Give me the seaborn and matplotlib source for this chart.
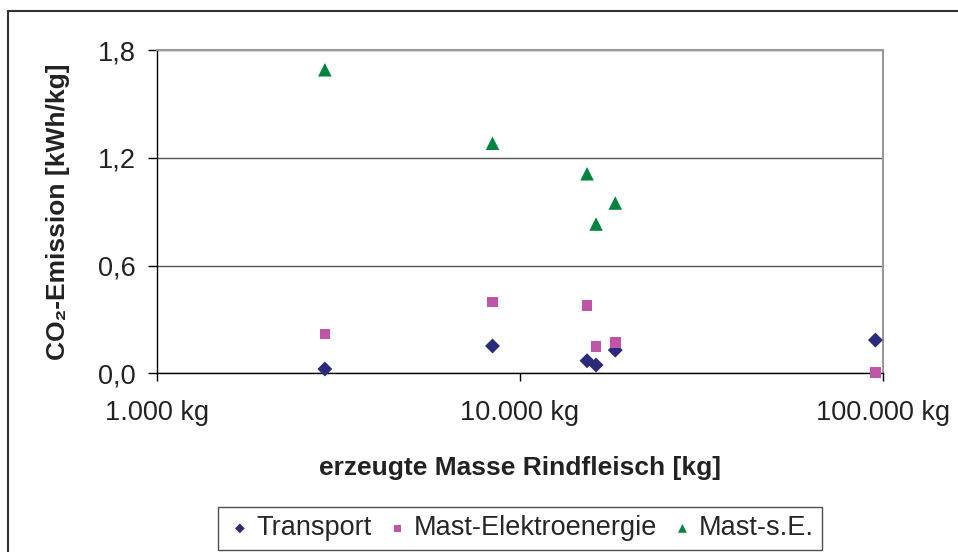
import pandas as pd
import matplotlib
matplotlib.use("Agg")
import matplotlib.pyplot as plt
import seaborn as sns
from matplotlib.ticker import FuncFormatter, NullLocator
from matplotlib.patches import Rectangle

# data
masse = [2900, 8400, 15300, 16200, 18300, 95300]
transport = [0.024, 0.152, 0.070, 0.046, 0.129, 0.185]
mast_elektro = [0.218, 0.398, 0.379, 0.148, 0.170, 0.004]
mast_se = [1.690, 1.281, 1.111, 0.831, 0.948]
series_names = ["Transport", "Mast-Elektroenergie", "Mast-s.E."]
y_ticks = [0.0, 0.6, 1.2, 1.8]
x_ticks = [1000, 10000, 100000]

rows = []
for m, v in zip(masse, transport):
    rows.append((m, v, series_names[0]))
for m, v in zip(masse, mast_elektro):
    rows.append((m, v, series_names[1]))
for m, v in zip(masse[:5], mast_se):
    rows.append((m, v, series_names[2]))
df = pd.DataFrame(rows, columns=["Masse", "CO2", "Serie"])

sns.set_style("white")
plt.rcParams["font.family"] = ["Liberation Sans", "DejaVu Sans"]

fig = plt.figure(figsize=(9.58, 5.52), dpi=100)
ax = fig.add_axes([157 / 958, 1 - 373.3 / 552, 726 / 958, 323.3 / 552])

palette = {"Transport": "#2B2A7C", "Mast-Elektroenergie": "#BE55A6", "Mast-s.E.": "#00843F"}
markers = {"Transport": "D", "Mast-Elektroenergie": "s", "Mast-s.E.": "^"}
sizes = {"Transport": 58, "Mast-Elektroenergie": 58, "Mast-s.E.": 95}

for name in series_names:
    sub = df[df["Serie"] == name]
    sns.scatterplot(data=sub, x="Masse", y="CO2", color=palette[name], marker=markers[name],
                    s=sizes[name], edgecolor="none", ax=ax, label=name, zorder=3, clip_on=False)

ax.set_xscale("log")
ax.set_xlim(1000, 100000)
ax.set_ylim(0, 1.8)
ax.set_xticks(x_ticks)
ax.xaxis.set_minor_locator(NullLocator())
ax.xaxis.set_major_formatter(FuncFormatter(lambda v, p: f"{int(round(v)):,} kg".replace(",", ".")))
ax.set_yticks(y_ticks)
ax.yaxis.set_major_formatter(FuncFormatter(lambda v, p: f"{v:.1f}".replace(".", ",")))

ax.grid(axis="y", color="#555555", linewidth=1.0)
ax.grid(axis="x", visible=False)
for side in ["left", "bottom"]:
    ax.spines[side].set_color("black")
    ax.spines[side].set_linewidth(1.0)
for side in ["top", "right"]:
    ax.spines[side].set_color("#999999")
    ax.spines[side].set_linewidth(1.5)
ax.set_axisbelow(True)

ax.tick_params(axis="y", direction="out", length=6.5, width=1, color="black", pad=9,
               labelsize=19.5, labelcolor="#222222", left=True)
ax.tick_params(axis="x", direction="out", length=6, width=1, color="black", pad=13,
               labelsize=19.5, labelcolor="#222222", bottom=True)

ax.set_xlabel("erzeugte Masse Rindfleisch [kg]", fontsize=19, fontweight="bold",
              color="#222222", labelpad=22)
ax.set_ylabel("CO\u2082-Emission [kWh/kg]", fontsize=19, fontweight="bold",
              color="#222222", labelpad=20)

sns.move_legend(ax, "center", bbox_to_anchor=(0.5, -0.48), ncol=3, title=None,
                frameon=True, fontsize=19.5, markerscale=0.65, handletextpad=0.1,
                columnspacing=0.45, handlelength=1.0, borderpad=0.3, fancybox=False)
leg = ax.get_legend()
leg.get_frame().set_edgecolor("#222222")
leg.get_frame().set_linewidth(1.0)

fig.add_artist(Rectangle((8 / 958, -0.2), 1.2, 1 - 11 / 552 + 0.2, transform=fig.transFigure,
                         fill=False, edgecolor="#333333", linewidth=1.5))

fig.savefig("out.png", dpi=100)
